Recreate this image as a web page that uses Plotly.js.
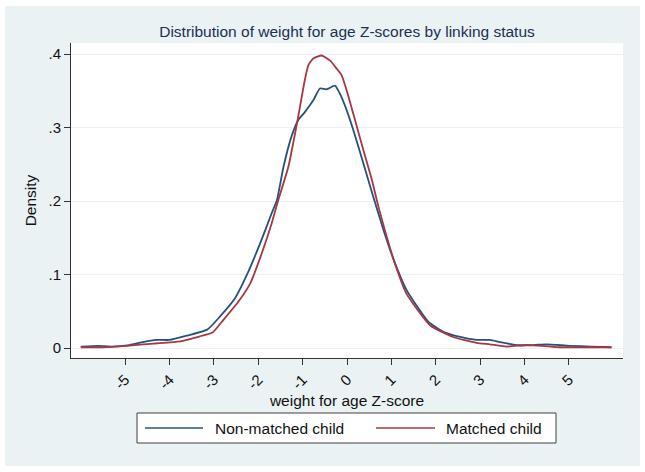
<!DOCTYPE html>
<html>
<head>
<meta charset="utf-8">
<script src="https://cdn.plot.ly/plotly-3.0.1.min.js"></script>
<style>html,body{margin:0;padding:0;background:#fff;}#chart{width:645px;height:472px;}</style>
</head>
<body>
<div id="chart"></div>
<script>
// Data (kernel density estimates)
const nonMatchedX = [-6.0,-5.6,-5.3,-4.9,-4.6,-4.3,-4.0,-3.6,-3.15,-2.86,-2.52,-2.26,-1.96,-1.70,-1.58,-1.43,-1.25,-1.10,-0.95,-0.76,-0.61,-0.46,-0.27,-0.16,-0.01,0.14,0.37,0.59,0.82,1.04,1.34,1.53,1.83,2.17,2.55,2.92,3.22,3.45,3.82,4.2,4.5,5.02,5.5,5.96];
const nonMatchedY = [0.002,0.003,0.002,0.004,0.008,0.011,0.011,0.017,0.025,0.043,0.068,0.099,0.142,0.183,0.201,0.247,0.288,0.310,0.321,0.337,0.353,0.352,0.357,0.346,0.324,0.297,0.251,0.206,0.161,0.122,0.079,0.061,0.036,0.022,0.015,0.011,0.011,0.008,0.004,0.004,0.005,0.003,0.002,0.001];

const matchedX = [-6.0,-5.5,-4.96,-4.36,-3.76,-3.31,-3.03,-2.79,-2.45,-2.18,-1.92,-1.70,-1.55,-1.32,-1.17,-1.06,-0.95,-0.87,-0.76,-0.57,-0.38,-0.23,-0.12,-0.01,0.14,0.37,0.56,0.71,1.08,1.34,1.87,2.39,2.92,3.22,3.6,4.05,4.4,4.8,5.4,5.96];
const matchedY = [0.001,0.001,0.003,0.006,0.009,0.016,0.021,0.038,0.063,0.088,0.129,0.169,0.201,0.247,0.292,0.328,0.365,0.385,0.394,0.398,0.391,0.380,0.371,0.351,0.319,0.269,0.229,0.192,0.115,0.074,0.031,0.015,0.007,0.005,0.002,0.004,0.003,0.001,0.001,0.001];

const xTickVals = [-5,-4,-3,-2,-1,0,1,2,3,4,5];
const xTickText = ['-5','-4','-3','-2','-1','0','1','2','3','4','5'];
const yTickVals = [0,0.1,0.2,0.3,0.4];
const yTickText = ['0','.1','.2','.3','.4'];

const seriesNames = ['Non-matched child','Matched child'];
const colBlue = '#24527e';
const colRed = '#a8373f';
const FONT = 'Liberation Sans, Arial, Helvetica, sans-serif';

const traces = [
  {x: nonMatchedX, y: nonMatchedY, type:'scatter', mode:'lines', name: seriesNames[0],
   line:{color: colBlue, width:1.8, shape:'spline', smoothing:0.5}, showlegend:false, hoverinfo:'skip'},
  {x: matchedX, y: matchedY, type:'scatter', mode:'lines', name: seriesNames[1],
   line:{color: colRed, width:1.8, shape:'spline', smoothing:0.5}, showlegend:false, hoverinfo:'skip'}
];

// plot area in pixels: x 71..623, y 43..358
const L=71, R=623, T=43, B=358;
const px = v => (v - L)/(R - L);
const py = v => (B - v)/(B - T);

const layout = {
  width:645, height:472,
  margin:{l:L, r:645-R, t:T, b:472-B, pad:0},
  paper_bgcolor:'#ffffff',
  plot_bgcolor:'rgba(0,0,0,0)',
  font:{family:FONT, size:15, color:'#111'},
  title:{text:'Distribution of weight for age Z-scores by linking status',
         font:{family:FONT, size:15.5, color:'#1a2f54'},
         x:(L+R)/2/645, xanchor:'center', y:1-32/472, yanchor:'middle', xref:'container', yref:'container'},
  xaxis:{range:[-6.22,6.22], tickmode:'array', tickvals:xTickVals, ticktext:xTickText, tickangle:-45,
         ticks:'outside', ticklen:6, tickcolor:'#333', tickwidth:1,
         showline:true, linecolor:'#333', linewidth:1, showgrid:false, zeroline:false,
         tickfont:{family:FONT, size:15, color:'#111'},
         title:{text:'weight for age Z-score', font:{family:FONT, size:15.5, color:'#111'}, standoff:0}},
  yaxis:{range:[-0.0136,0.415], tickmode:'array', tickvals:yTickVals, ticktext:yTickText,
         ticks:'outside', ticklen:6, tickcolor:'#333', tickwidth:1,
         showline:true, linecolor:'#333', linewidth:1, showgrid:true, gridcolor:'#eaf2f3', gridwidth:1, zeroline:false,
         tickfont:{family:FONT, size:15, color:'#111'},
         title:{text:'Density', font:{family:FONT, size:15.5, color:'#111'}, standoff:8}},
  showlegend:false,
  shapes:[
    {type:'rect', xref:'paper', yref:'paper', x0:px(5), x1:px(640), y0:py(466), y1:py(6),
     fillcolor:'#eaf2f3', line:{width:0}, layer:'below'},
    {type:'rect', xref:'paper', yref:'paper', x0:0, x1:1, y0:0, y1:1,
     fillcolor:'#ffffff', line:{width:0}, layer:'below'},
    // legend box
    {type:'rect', xref:'paper', yref:'paper', x0:px(137), x1:px(556), y0:py(443), y1:py(413),
     fillcolor:'#ffffff', line:{color:'#404040', width:1}, layer:'above'},
    {type:'line', xref:'paper', yref:'paper', x0:px(145), x1:px(203), y0:py(428), y1:py(428),
     line:{color:colBlue, width:1.6}, layer:'above'},
    {type:'line', xref:'paper', yref:'paper', x0:px(376), x1:px(435), y0:py(428), y1:py(428),
     line:{color:colRed, width:1.6}, layer:'above'}
  ],
  annotations:[
    {xref:'paper', yref:'paper', x:px(213), y:py(428), xanchor:'left', yanchor:'middle', showarrow:false,
     text:seriesNames[0], font:{family:FONT, size:15.5, color:'#111'}},
    {xref:'paper', yref:'paper', x:px(444), y:py(428), xanchor:'left', yanchor:'middle', showarrow:false,
     text:seriesNames[1], font:{family:FONT, size:15.5, color:'#111'}}
  ]
};

Plotly.newPlot('chart', traces, layout, {staticPlot:true, displayModeBar:false});
</script>
</body>
</html>
